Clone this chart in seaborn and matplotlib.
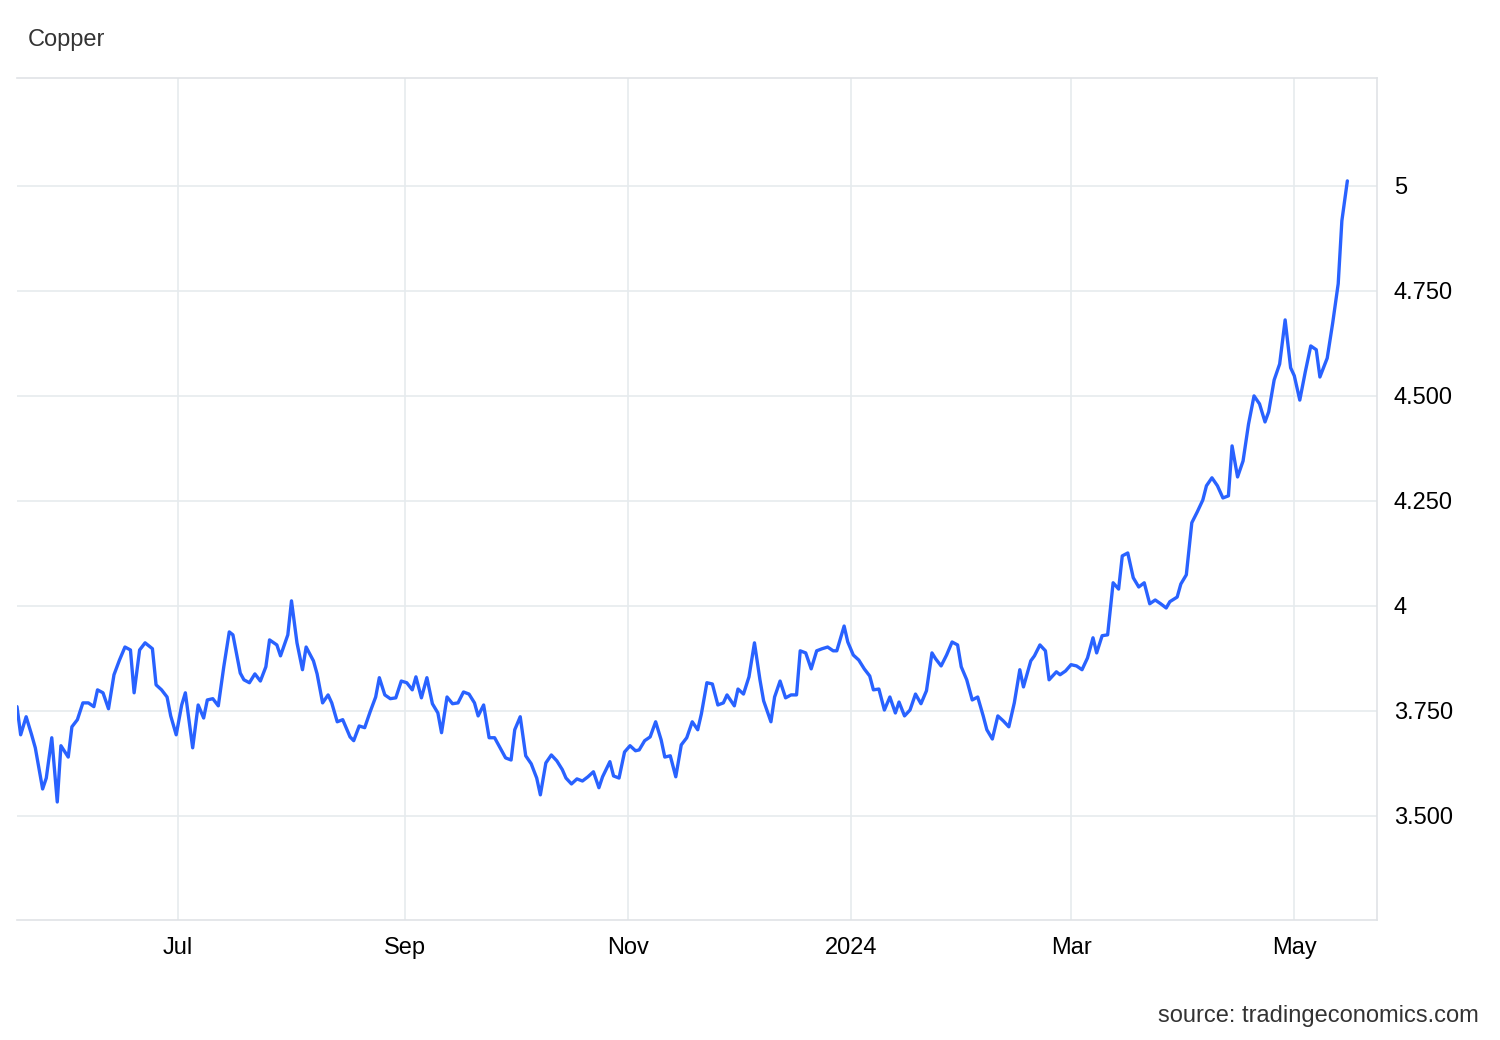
import numpy as np
import pandas as pd
import matplotlib
matplotlib.use("Agg")
import matplotlib.pyplot as plt
import matplotlib.dates as mdates
import seaborn as sns

start_date = "2023-05-18"
day_offsets = [0,1,2.5,4,5,7,8,9.5,11,12,14,15,16.5,18,19.5,21,22,23.5,25,26.5,28,29.5,31,32,33.5,35,37,38,39.5,41,42,43.5,45,46,48,49.5,51,52,53.5,55,56.5,58,59,61,62,63.5,65,66.5,68,69,71,72,74,75,76.5,78,79,81,82,83.5,85,86,87.5,89,91,92,93.5,95,96.5,98,99,100.5,102,103.5,105,106.5,108,109,110.5,112,113.5,115,116,117.5,119,120.5,122,123.5,125,126,127.5,129,130.5,132,133.5,135,136,137.5,139,140.5,142,143,144.5,146,147.5,149,150,151.5,153,154.5,156,157.5,159,160,162,163,164.5,166,167.5,169,170,171.5,173,174.5,176,177,178.5,180,181.5,183,184.5,186,187,188.5,190,191.5,193,194,196,197,198.5,200,201.5,203,204,206,207,208.5,210,211.5,213,214,215.5,217,218.5,220,221.5,223,224,226,227,228.5,230,231.5,233,234,235.5,237,238.5,240,241,242.5,244,245.5,247,248.5,250,251,252.5,254,255.5,257,258,259.5,261,262.5,264,265,266.5,268,269.5,271,272.5,274,275,277,278,279.5,281,282,284,285,286.5,288,289.5,291,292.5,294,295,296.5,298,299.5,301,302,303.5,305,306.5,308,309.5,311,312.5,314,315,317,318,319.5,321,322.5,324,325,326.5,328,329.5,331,332,333.5,335,336.5,338,339.5,341,342,343.5,345,346.5,348,349,350.5,352,353.5,355,356,358,359.5,361,362,363.5]
prices = [3.760,3.693,3.736,3.693,3.662,3.564,3.590,3.686,3.533,3.667,3.640,3.712,3.729,3.769,3.769,3.760,3.800,3.793,3.755,3.836,3.871,3.902,3.895,3.793,3.895,3.912,3.898,3.812,3.800,3.783,3.738,3.693,3.764,3.793,3.662,3.764,3.733,3.776,3.779,3.762,3.855,3.938,3.931,3.840,3.824,3.817,3.838,3.821,3.855,3.919,3.907,3.881,3.931,4.012,3.912,3.848,3.902,3.869,3.838,3.769,3.788,3.769,3.724,3.729,3.688,3.679,3.714,3.710,3.748,3.783,3.829,3.788,3.779,3.781,3.821,3.817,3.800,3.831,3.781,3.829,3.767,3.745,3.698,3.783,3.767,3.769,3.795,3.790,3.769,3.738,3.764,3.686,3.686,3.662,3.638,3.633,3.705,3.736,3.643,3.624,3.590,3.550,3.626,3.645,3.631,3.610,3.590,3.576,3.588,3.583,3.593,3.605,3.567,3.593,3.629,3.595,3.590,3.652,3.667,3.655,3.657,3.679,3.688,3.724,3.681,3.640,3.643,3.593,3.669,3.686,3.724,3.705,3.743,3.817,3.814,3.764,3.769,3.788,3.762,3.802,3.790,3.831,3.912,3.824,3.774,3.724,3.783,3.821,3.781,3.788,3.788,3.893,3.888,3.850,3.893,3.898,3.902,3.893,3.893,3.952,3.914,3.883,3.871,3.850,3.833,3.800,3.802,3.752,3.783,3.745,3.771,3.738,3.752,3.790,3.767,3.798,3.888,3.874,3.857,3.883,3.914,3.907,3.855,3.824,3.776,3.783,3.738,3.705,3.683,3.738,3.726,3.712,3.769,3.848,3.807,3.869,3.881,3.907,3.893,3.824,3.843,3.836,3.845,3.860,3.857,3.848,3.876,3.924,3.888,3.929,3.931,4.055,4.040,4.119,4.126,4.067,4.045,4.055,4.005,4.014,4.005,3.995,4.010,4.021,4.052,4.074,4.198,4.224,4.252,4.286,4.305,4.286,4.257,4.262,4.381,4.307,4.345,4.433,4.500,4.481,4.438,4.462,4.538,4.576,4.681,4.567,4.548,4.490,4.557,4.619,4.610,4.545,4.590,4.674,4.767,4.917,5.012]
y_ticks = [3.5, 3.75, 4.0, 4.25, 4.5, 4.75, 5.0]
y_tick_labels = ["3.500", "3.750", "4", "4.250", "4.500", "4.750", "5"]
x_ticks = ["2023-07-01", "2023-09-01", "2023-11-01", "2024-01-01", "2024-03-01", "2024-05-01"]
x_tick_labels = ["Jul", "Sep", "Nov", "2024", "Mar", "May"]

dates = pd.Timestamp(start_date) + pd.to_timedelta(day_offsets, unit="D")
df = pd.DataFrame({"date": dates, "price": prices})

sns.set_style("white")
plt.rcParams["font.family"] = ["Liberation Sans", "DejaVu Sans"]

fig = plt.figure(figsize=(15, 10.4), dpi=100)
ax = fig.add_axes([17/1500, 120/1040, 1360/1500, 842/1040])
sns.lineplot(data=df, x="date", y="price", ax=ax, color="#2962FF", linewidth=2.4)

ax.set_xlim(pd.Timestamp(start_date), pd.Timestamp(start_date) + pd.Timedelta(days=371.6))
ax.set_ylim(3.252, 5.257)
ax.yaxis.tick_right()
ax.set_yticks(y_ticks)
ax.set_yticklabels(y_tick_labels)
ax.set_xticks(pd.to_datetime(x_ticks))
ax.set_xticklabels(x_tick_labels)
ax.tick_params(axis="both", length=0, labelsize=17, colors="black")
ax.tick_params(axis="y", pad=12)
ax.tick_params(axis="x", pad=12)
ax.grid(True, color="#e6ebee", linewidth=1.2)
ax.set_xlabel("")
ax.set_ylabel("")
for s in ["top", "bottom", "right"]:
    ax.spines[s].set_color("#e0e3e6")
    ax.spines[s].set_linewidth(1.2)
ax.spines["left"].set_visible(False)

fig.text(28/1500, 1 - 40/1040, "Copper", fontsize=17, color="#333333", va="center", ha="left")
fig.text(1479/1500, 1 - 1016/1040, "source: tradingeconomics.com", fontsize=17,
         color="#333333", va="center", ha="right")

fig.savefig("out.png", dpi=100)
